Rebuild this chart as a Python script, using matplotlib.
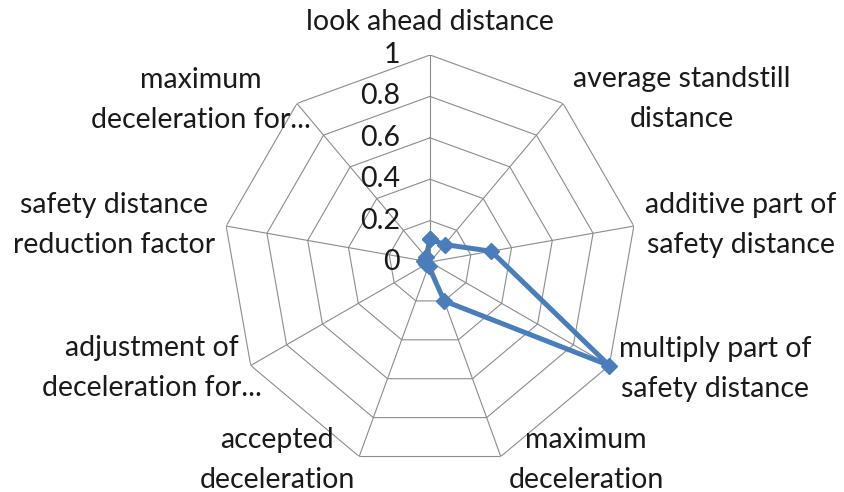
import numpy as np
import matplotlib
matplotlib.use("Agg")
import matplotlib.pyplot as plt

categories = [
    "look ahead distance",
    "average standstill\ndistance",
    "additive part of\nsafety distance",
    "multiply part of\nsafety distance",
    "maximum\ndeceleration",
    "accepted\ndeceleration",
    "adjustment of\ndeceleration for...",
    "safety distance\nreduction factor",
    "maximum\ndeceleration for...",
]
values = [0.11, 0.11, 0.30, 1.0, 0.20, 0.02, 0.02, 0.03, 0.03]
ring_ticks = [0, 0.2, 0.4, 0.6, 0.8, 1.0]
ring_labels = ["0", "0.2", "0.4", "0.6", "0.8", "1"]

# label anchor positions (pixel centres in the 844x492 image)
label_px = [(430, 22), (682, 99), (741, 225), (715, 369), (586, 460),
            (277, 460), (152, 368), (114, 225), (201, 100)]

W, H = 844, 492
plt.rcParams['font.family'] = ['Lato', 'DejaVu Sans']
fig = plt.figure(figsize=(W / 100, H / 100), dpi=100)
cx, cy, R = 430, 262, 207
ax = fig.add_axes([(cx - R) / W, (H - cy - R) / H, 2 * R / W, 2 * R / H],
                  projection='polar')
ax.set_theta_offset(np.pi / 2)
ax.set_theta_direction(-1)
ax.set_ylim(0, 1)
ax.grid(False)
ax.spines['polar'].set_visible(False)
ax.set_xticks([])
ax.set_yticks([])
ax.patch.set_alpha(0)

n = len(categories)
theta = np.linspace(0, 2 * np.pi, n, endpoint=False)
theta_c = np.append(theta, theta[0])
grid_col = '#8c8c8c'
for r in ring_ticks[1:]:
    ax.plot(theta_c, [r] * (n + 1), color=grid_col, lw=0.8, zorder=1)
for t in theta:
    ax.plot([t, t], [0, 1], color=grid_col, lw=0.8, zorder=1)

vals_c = values + values[:1]
ax.plot(theta_c, vals_c, color='#4a7ebb', lw=3.6, marker='D', markersize=8,
        zorder=3, clip_on=False)

txt_col = '#1a1a1a'
fs = 20.5
for lab, (px, py) in zip(categories, label_px):
    fig.text(px / W, 1 - py / H, lab, ha='center', va='center', fontsize=fs,
             color=txt_col, linespacing=1.62)

for r, lab in zip(ring_ticks, ring_labels):
    py = cy - r * R
    fig.text(400 / W, 1 - py / H, lab, ha='right', va='center', fontsize=fs,
             color=txt_col)

fig.savefig("out.png", dpi=100, facecolor='white')
